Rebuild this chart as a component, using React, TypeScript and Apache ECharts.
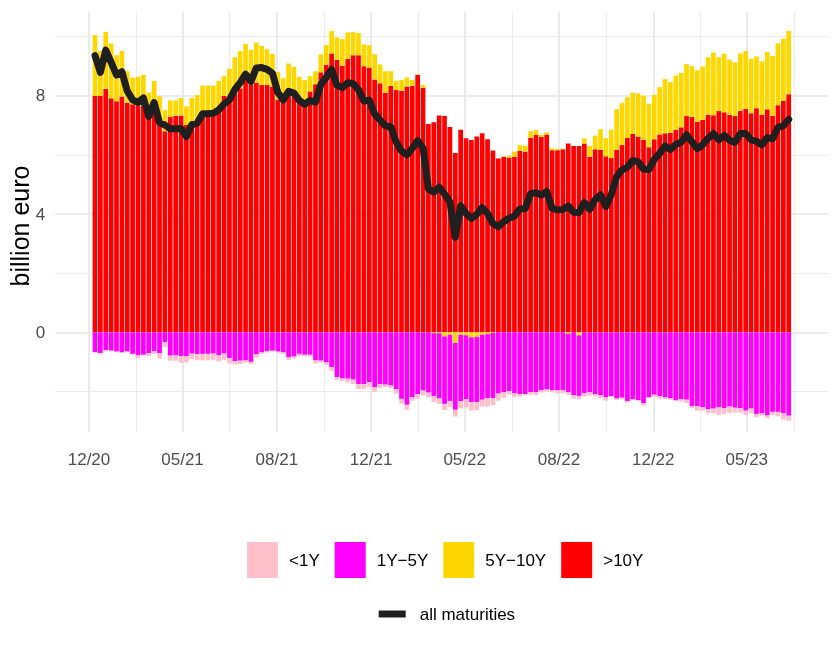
import React, { useEffect, useRef } from 'react';
import * as echarts from 'echarts';

const DAY = 86400000;
const FIRST_WEEK = Date.UTC(2021, 0, 5);

// >10Y
const over10Y = [
  7.99, 7.99, 8.23, 7.91, 7.81, 7.97, 7.76, 7.71, 7.65, 7.68,
  7.57, 7.48, 7.12, 6.80, 7.28, 7.32, 7.33, 7.01, 7.05, 7.20,
  7.37, 7.37, 7.44, 7.51, 7.99, 7.85, 8.08, 8.25, 8.50, 8.39,
  8.45, 8.36, 8.36, 8.30, 7.87, 7.85, 8.21, 8.02, 7.85, 7.68,
  8.14, 8.39, 8.79, 9.04, 9.43, 9.21, 9.01, 9.24, 9.37, 9.37,
  9.00, 8.95, 8.55, 8.42, 8.10, 8.33, 8.19, 8.17, 8.31, 8.33,
  8.70, 8.27, 7.04, 7.10, 7.33, 7.31, 6.94, 6.06, 6.85, 6.56,
  6.50, 6.62, 6.73, 6.53, 6.15, 5.88, 5.93, 5.91, 5.94, 6.13,
  6.11, 6.58, 6.67, 6.60, 6.69, 6.16, 6.16, 6.19, 6.38, 6.30,
  6.30, 6.38, 5.94, 6.19, 6.17, 5.95, 5.89, 6.17, 6.33, 6.57,
  6.71, 6.62, 6.51, 6.26, 6.53, 6.69, 6.73, 6.75, 6.84, 6.93,
  7.31, 7.28, 7.12, 7.18, 7.36, 7.34, 7.48, 7.44, 7.36, 7.31,
  7.49, 7.56, 7.41, 7.58, 7.36, 7.54, 7.32, 7.68, 7.83, 8.05,
];

// 5Y-10Y
const y5to10 = [
  2.06, 1.52, 1.93, 1.86, 1.56, 1.54, 1.07, 0.90, 0.99, 1.02,
  0.54, 1.02, 0.86, 0.71, 0.56, 0.52, 0.59, 0.63, 0.87, 0.82,
  0.97, 0.97, 0.90, 0.99, 0.67, 1.06, 1.22, 1.26, 1.25, 1.16,
  1.35, 1.32, 1.21, 1.11, 0.93, 0.74, 0.88, 0.95, 0.79, 0.85,
  0.52, 0.44, 0.61, 0.67, 0.76, 0.76, 0.90, 0.90, 0.79, 0.75,
  0.73, 0.76, 0.85, 0.64, 0.73, 0.50, 0.31, 0.36, 0.31, 0.20,
  0.02, 0.09, 0.00, -0.03, -0.03, -0.14, -0.08, -0.36, -0.08, -0.10,
  -0.17, -0.15, -0.08, -0.06, -0.02, 0.00, 0.02, 0.06, 0.17, 0.20,
  0.20, 0.22, 0.17, 0.07, 0.07, 0.06, 0.04, 0.02, -0.05, 0.00,
  -0.10, 0.18, 0.36, 0.46, 0.70, 0.61, 0.96, 1.37, 1.42, 1.38,
  1.39, 1.46, 1.49, 1.47, 1.50, 1.60, 1.83, 1.71, 1.84, 1.84,
  1.76, 1.72, 1.74, 1.81, 1.94, 2.12, 1.82, 1.98, 1.86, 1.82,
  1.94, 1.95, 1.84, 1.75, 1.80, 1.94, 2.02, 2.09, 2.10, 2.14,
];

// 1Y-5Y
const y1to5 = [
  -0.67, -0.70, -0.60, -0.62, -0.65, -0.68, -0.65, -0.73, -0.78, -0.76,
  -0.71, -0.64, -0.70, -0.33, -0.79, -0.78, -0.81, -0.81, -0.72, -0.74,
  -0.73, -0.73, -0.72, -0.78, -0.72, -0.87, -0.97, -0.96, -0.95, -1.00,
  -0.73, -0.68, -0.63, -0.62, -0.65, -0.68, -0.85, -0.82, -0.73, -0.76,
  -0.76, -0.95, -0.96, -1.02, -1.18, -1.51, -1.56, -1.57, -1.60, -1.75,
  -1.75, -1.69, -1.86, -1.75, -1.77, -1.80, -1.92, -2.25, -2.45, -2.19,
  -2.09, -1.97, -2.04, -2.13, -2.21, -2.28, -2.24, -2.26, -2.25, -2.16,
  -2.19, -2.21, -2.20, -2.17, -2.21, -2.07, -2.02, -1.99, -2.06, -2.09,
  -2.09, -2.02, -2.02, -1.96, -1.93, -1.96, -1.96, -1.96, -1.97, -2.12,
  -2.05, -2.05, -2.03, -2.09, -2.12, -2.20, -2.16, -2.24, -2.21, -2.33,
  -2.26, -2.29, -2.39, -2.20, -2.11, -2.16, -2.20, -2.22, -2.30, -2.26,
  -2.28, -2.49, -2.50, -2.54, -2.60, -2.58, -2.54, -2.56, -2.51, -2.55,
  -2.56, -2.65, -2.58, -2.76, -2.74, -2.81, -2.69, -2.69, -2.74, -2.82,
];

// <1Y
const under1Y = [
  -0.02, -0.02, -0.02, -0.02, -0.02, -0.02, -0.02, -0.02, -0.09, -0.02,
  -0.10, -0.09, -0.19, -0.17, -0.17, -0.18, -0.22, -0.21, -0.18, -0.21,
  -0.22, -0.22, -0.21, -0.20, -0.22, -0.18, -0.12, -0.11, -0.07, -0.07,
  -0.13, -0.05, -0.05, -0.03, -0.04, -0.05, -0.09, -0.06, -0.07, -0.06,
  -0.06, -0.10, -0.06, -0.07, -0.12, -0.11, -0.08, -0.13, -0.15, -0.17,
  -0.16, -0.17, -0.16, -0.13, -0.08, -0.08, -0.15, -0.15, -0.17, -0.12,
  -0.15, -0.16, -0.16, -0.20, -0.18, -0.21, -0.21, -0.23, -0.24, -0.28,
  -0.29, -0.27, -0.23, -0.28, -0.24, -0.24, -0.19, -0.12, -0.12, -0.07,
  -0.04, -0.09, -0.10, -0.07, -0.07, -0.07, -0.10, -0.10, -0.09, -0.12,
  -0.10, -0.12, -0.11, -0.07, -0.10, -0.11, -0.03, -0.04, -0.05, -0.04,
  -0.03, -0.03, -0.09, -0.03, -0.07, -0.08, -0.06, -0.06, -0.03, -0.08,
  -0.11, -0.07, -0.15, -0.11, -0.14, -0.16, -0.25, -0.20, -0.21, -0.16,
  -0.15, -0.14, -0.16, -0.11, -0.08, -0.09, -0.11, -0.15, -0.21, -0.17,
];

const tickDates = [
  Date.UTC(2020, 11, 31), Date.UTC(2021, 4, 1), Date.UTC(2021, 7, 31), Date.UTC(2021, 11, 31),
  Date.UTC(2022, 4, 1), Date.UTC(2022, 7, 31), Date.UTC(2022, 11, 31), Date.UTC(2023, 4, 1),
];
const nextBreak = Date.UTC(2023, 7, 31);
const tickLabels = ['12/20', '05/21', '08/21', '12/21', '05/22', '08/22', '12/22', '05/23'];

const yMajor = [0, 4, 8];
const yMinor = [-2, 2, 6, 10];

const names = ['<1Y', '1Y\u22125Y', '5Y\u221210Y', '>10Y'];
const colors = ['#FFC0CB', '#FF00FF', '#FFD700', '#FF0000'];
const lineName = 'all maturities';

export default function App() {
  const ref = useRef<HTMLDivElement>(null);
  useEffect(() => {
    const chart = echarts.init(ref.current!, null, { renderer: 'svg' });
    const weeks = over10Y.map((_, i) => FIRST_WEEK + i * 7 * DAY);
    const total = over10Y.map((v, i) => +(v + y5to10[i] + y1to5[i] + under1Y[i]).toFixed(2));
    const brk = [...tickDates, nextBreak];
    const minorDates = brk.slice(1).map((d, i) => (d + brk[i]) / 2);
    const origin = tickDates[0];
    const xMin = origin - 43.6 * DAY;
    const xMax = origin + 956.6 * DAY;
    const yMin = -3.37;
    const yMax = 10.83;
    const font = 'Liberation Sans, Arial, sans-serif';
    const gridColor = '#EBEBEB';

    const bar = (name: string, color: string, vals: number[]) => ({
      name,
      type: 'bar',
      stack: 'all',
      xAxisIndex: 0,
      yAxisIndex: 0,
      barWidth: 4.7,
      itemStyle: { color },
      data: weeks.map((w, i) => [w, vals[i]]),
    });

    chart.setOption({
      animation: false,
      textStyle: { fontFamily: font },
      grid: {
        left: 55.3,
        right: 10.6,
        top: 12,
        bottom: 222,
        containLabel: false,
        outerBoundsMode: 'none',
      },
      xAxis: [
        {
          type: 'time',
          min: xMin,
          max: xMax,
          axisLine: { show: false },
          axisTick: { show: false },
          axisLabel: { show: false },
          splitLine: { show: false },
        },
        {
          type: 'value',
          min: xMin,
          max: xMax,
          position: 'bottom',
          axisLine: { show: false },
          axisTick: { show: false, customValues: tickDates },
          axisLabel: {
            customValues: tickDates,
            formatter: (v: number) => {
              const k = tickDates.findIndex((d) => Math.abs(d - v) < DAY);
              return k >= 0 ? tickLabels[k] : '';
            },
            color: '#4D4D4D',
            fontSize: 17,
            margin: 19,
            fontFamily: font,
          },
          splitLine: { show: true, lineStyle: { color: gridColor, width: 2 } },
        },
        {
          type: 'value',
          min: xMin,
          max: xMax,
          position: 'bottom',
          axisLine: { show: false },
          axisTick: { show: false, customValues: minorDates },
          axisLabel: { show: false, customValues: minorDates },
          splitLine: { show: true, lineStyle: { color: gridColor, width: 1 } },
        },
      ],
      yAxis: [
        {
          type: 'value',
          min: yMin,
          max: yMax,
          axisLine: { show: false },
          axisTick: { show: false, customValues: yMajor },
          axisLabel: {
            customValues: yMajor,
            color: '#4D4D4D',
            fontSize: 17,
            margin: 10,
            fontFamily: font,
          },
          splitLine: { show: true, lineStyle: { color: gridColor, width: 2 } },
          name: 'billion euro',
          nameLocation: 'middle',
          nameRotate: 90,
          nameGap: 23,
          nameMoveOverlap: false,
          nameTextStyle: { color: '#000', fontSize: 25, fontFamily: font, padding: [0, 8, 0, 0] },
        },
        {
          type: 'value',
          min: yMin,
          max: yMax,
          position: 'left',
          axisLine: { show: false },
          axisTick: { show: false, customValues: yMinor },
          axisLabel: { show: false, customValues: yMinor },
          splitLine: { show: true, lineStyle: { color: gridColor, width: 1 } },
        },
      ],
      legend: [
        {
          data: names.map((n) => ({ name: n, icon: 'rect' })),
          left: 247,
          top: 542,
          padding: 0,
          itemWidth: 31,
          itemHeight: 36,
          itemGap: 15,
          selectedMode: false,
          textStyle: { color: '#000', fontSize: 17, fontFamily: font, padding: [0, 0, 0, 6] },
        },
        {
          data: [{ name: lineName, icon: 'rect' }],
          left: 378.7,
          top: 605.5,
          padding: 0,
          itemWidth: 27,
          itemHeight: 7,
          selectedMode: false,
          textStyle: { color: '#000', fontSize: 17, fontFamily: font, padding: [0, 0, 0, 9] },
        },
      ],
      series: [
        bar(names[3], colors[3], over10Y),
        bar(names[2], colors[2], y5to10),
        bar(names[1], colors[1], y1to5),
        bar(names[0], colors[0], under1Y),
        {
          name: lineName,
          type: 'line',
          xAxisIndex: 0,
          yAxisIndex: 0,
          data: weeks.map((w, i) => [w, total[i]]),
          showSymbol: false,
          symbol: 'none',
          itemStyle: { color: '#1F1F1F' },
          lineStyle: { color: '#1F1F1F', width: 7, cap: 'round', join: 'round' },
          z: 5,
        },
      ],
    });
    return () => chart.dispose();
  }, []);
  return <div ref={ref} style={{ position: 'fixed', left: 0, top: 0, width: 839, height: 654 }} />;
}
